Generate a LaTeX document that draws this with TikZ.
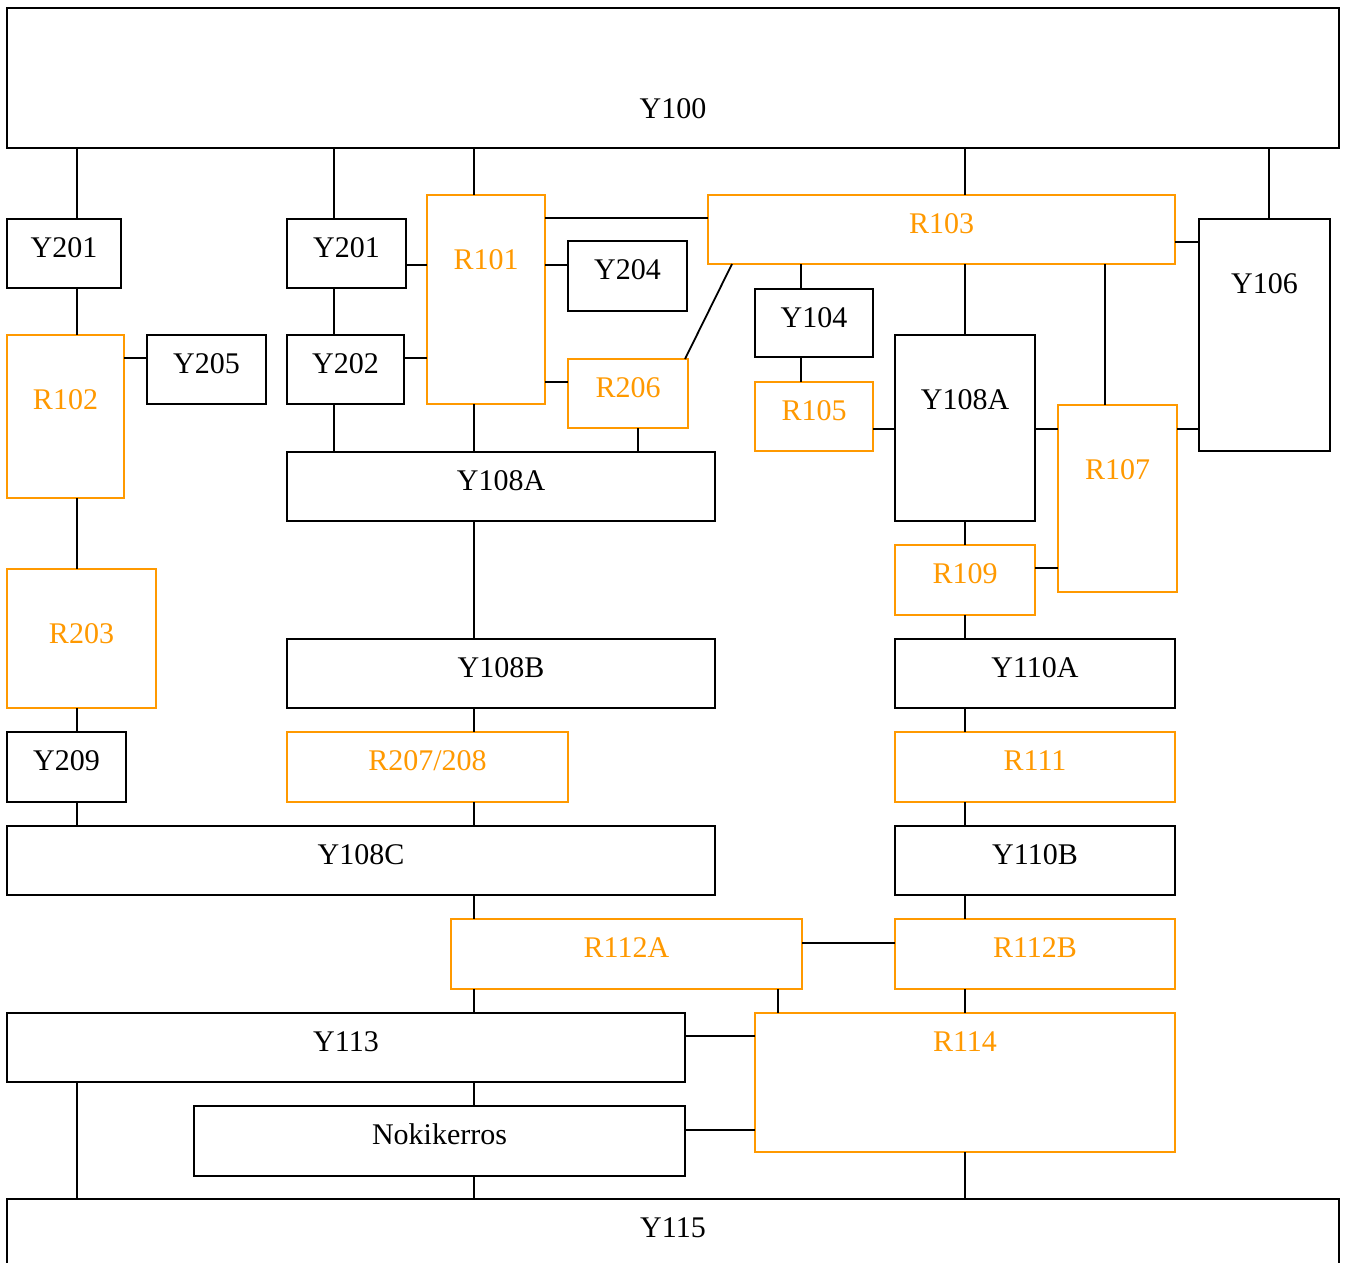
\documentclass[tikz,border=0pt]{standalone}
\usepackage{fontspec}
\setmainfont{Liberation Serif}
\usetikzlibrary{positioning}
\definecolor{orng}{RGB}{255,153,0}

\begin{document}
\begin{tikzpicture}[
  x=1pt,y=-1pt,font=\fontsize{30}{36}\selectfont,
  box/.style={draw,line width=1.8pt,inner sep=0pt,outer sep=0pt},
  ybox/.style={box,draw=black},
  rbox/.style={box,draw=orng},
  ytxt/.style={anchor=base,yshift=-38pt,text=black},
  ytall/.style={ytxt,yshift=-36pt},
  rtxt/.style={ytxt,text=orng},
  rtall/.style={rtxt,yshift=-36pt},
  wire/.style={line width=1.8pt,black},
]
\path[use as bounding box,fill=white] (0,0) rectangle (1346,1263);

% top and bottom bars
\node[ybox,minimum width=1332pt,minimum height=140pt,label={[ytxt,yshift=-72pt]north:Y100}] (y100) at (673,78) {};
\node[ybox,minimum width=1332pt,minimum height=140pt,label={[ytxt]north:Y115}] (y115) at (673,1269) {};

% left column
\node[ybox,minimum width=114pt,minimum height=69pt,label={[ytxt]north:Y201}] (y201a) at (64,253.5) {};
\node[rbox,minimum width=117pt,minimum height=163pt,label={[rtall]north:R102}] (r102) at (65.5,416.5) {};
\node[ybox,minimum width=119pt,minimum height=69pt,label={[ytxt]north:Y205}] (y205) at (206.5,369.5) {};
\node[rbox,minimum width=149pt,minimum height=139pt,label={[rtall]north:R203}] (r203) at (81.5,638.5) {};
\node[ybox,minimum width=119pt,minimum height=70pt,label={[ytxt]north:Y209}] (y209) at (66.5,767) {};

% middle column
\node[ybox,minimum width=119pt,minimum height=69pt,label={[ytxt]north:Y201}] (y201b) at (346.5,253.5) {};
\node[ybox,minimum width=117pt,minimum height=69pt,label={[ytxt]north:Y202}] (y202) at (345.5,369.5) {};
\node[rbox,minimum width=118pt,minimum height=209pt,label={[rtall]north:R101}] (r101) at (486,299.5) {};
\node[ybox,minimum width=119pt,minimum height=70pt,label={[ytxt]north:Y204}] (y204) at (627.5,276) {};
\node[rbox,minimum width=120pt,minimum height=69pt,label={[rtxt]north:R206}] (r206) at (628,393.5) {};
\node[ybox,minimum width=428pt,minimum height=69pt,label={[ytxt]north:Y108A}] (y108am) at (501,486.5) {};
\node[ybox,minimum width=428pt,minimum height=69pt,label={[ytxt]north:Y108B}] (y108b) at (501,673.5) {};
\node[rbox,minimum width=281pt,minimum height=70pt,label={[rtxt]north:R207/208}] (r207) at (427.5,767) {};
\node[ybox,minimum width=708pt,minimum height=69pt,label={[ytxt]north:Y108C}] (y108c) at (361,860.5) {};
\node[rbox,minimum width=351pt,minimum height=70pt,label={[rtxt]north:R112A}] (r112a) at (626.5,954) {};
\node[ybox,minimum width=678pt,minimum height=69pt,label={[ytxt]north:Y113}] (y113) at (346,1047.5) {};
\node[ybox,minimum width=491pt,minimum height=70pt,label={[ytxt]north:Nokikerros}] (noki) at (439.5,1141) {};

% right column
\node[rbox,minimum width=467pt,minimum height=69pt,label={[rtxt]north:R103}] (r103) at (941.5,229.5) {};
\node[ybox,minimum width=131pt,minimum height=232pt,label={[ytall]north:Y106}] (y106) at (1264.5,335) {};
\node[ybox,minimum width=118pt,minimum height=68pt,label={[ytxt]north:Y104}] (y104) at (814,323) {};
\node[rbox,minimum width=118pt,minimum height=69pt,label={[rtxt]north:R105}] (r105) at (814,416.5) {};
\node[ybox,minimum width=140pt,minimum height=186pt,label={[ytall]north:Y108A}] (y108ar) at (965,428) {};
\node[rbox,minimum width=119pt,minimum height=187pt,label={[rtall]north:R107}] (r107) at (1117.5,498.5) {};
\node[rbox,minimum width=140pt,minimum height=70pt,label={[rtxt]north:R109}] (r109) at (965,580) {};
\node[ybox,minimum width=280pt,minimum height=69pt,label={[ytxt]north:Y110A}] (y110a) at (1035,673.5) {};
\node[rbox,minimum width=280pt,minimum height=70pt,label={[rtxt]north:R111}] (r111) at (1035,767) {};
\node[ybox,minimum width=280pt,minimum height=69pt,label={[ytxt]north:Y110B}] (y110b) at (1035,860.5) {};
\node[rbox,minimum width=280pt,minimum height=70pt,label={[rtxt]north:R112B}] (r112b) at (1035,954) {};
\node[rbox,minimum width=420pt,minimum height=139pt,label={[rtxt]north:R114}] (r114) at (965,1082.5) {};

% vertical wires
\draw[wire] (77,0 |- y100.south) -- (77,0 |- y201a.north);
\draw[wire] (77,0 |- y201a.south) -- (77,0 |- r102.north);
\draw[wire] (77,0 |- r102.south) -- (77,0 |- r203.north);
\draw[wire] (77,0 |- r203.south) -- (77,0 |- y209.north);
\draw[wire] (77,0 |- y209.south) -- (77,0 |- y108c.north);
\draw[wire] (77,0 |- y113.south) -- (77,0 |- y115.north);
\draw[wire] (334,0 |- y100.south) -- (334,0 |- y201b.north);
\draw[wire] (334,0 |- y201b.south) -- (334,0 |- y202.north);
\draw[wire] (334,0 |- y202.south) -- (334,0 |- y108am.north);
\draw[wire] (474,0 |- y100.south) -- (474,0 |- r101.north);
\draw[wire] (474,0 |- r101.south) -- (474,0 |- y108am.north);
\draw[wire] (474,0 |- y108am.south) -- (474,0 |- y108b.north);
\draw[wire] (474,0 |- y108b.south) -- (474,0 |- r207.north);
\draw[wire] (474,0 |- r207.south) -- (474,0 |- y108c.north);
\draw[wire] (474,0 |- y108c.south) -- (474,0 |- r112a.north);
\draw[wire] (474,0 |- r112a.south) -- (474,0 |- y113.north);
\draw[wire] (474,0 |- y113.south) -- (474,0 |- noki.north);
\draw[wire] (474,0 |- noki.south) -- (474,0 |- y115.north);
\draw[wire] (638,0 |- r206.south) -- (638,0 |- y108am.north);
\draw[wire] (778,0 |- r112a.south) -- (778,0 |- r114.north);
\draw[wire] (801,0 |- r103.south) -- (801,0 |- y104.north);
\draw[wire] (801,0 |- y104.south) -- (801,0 |- r105.north);
\draw[wire] (965,0 |- y100.south) -- (965,0 |- r103.north);
\draw[wire] (965,0 |- r103.south) -- (965,0 |- y108ar.north);
\draw[wire] (965,0 |- y108ar.south) -- (965,0 |- r109.north);
\draw[wire] (965,0 |- r109.south) -- (965,0 |- y110a.north);
\draw[wire] (965,0 |- y110a.south) -- (965,0 |- r111.north);
\draw[wire] (965,0 |- r111.south) -- (965,0 |- y110b.north);
\draw[wire] (965,0 |- y110b.south) -- (965,0 |- r112b.north);
\draw[wire] (965,0 |- r112b.south) -- (965,0 |- r114.north);
\draw[wire] (965,0 |- r114.south) -- (965,0 |- y115.north);
\draw[wire] (1105,0 |- r103.south) -- (1105,0 |- r107.north);
\draw[wire] (1269,0 |- y100.south) -- (1269,0 |- y106.north);

% horizontal wires
\draw[wire] (r102.east |- 0,358) -- (y205.west |- 0,358);
\draw[wire] (y201b.east |- 0,265) -- (r101.west |- 0,265);
\draw[wire] (y202.east |- 0,358) -- (r101.west |- 0,358);
\draw[wire] (r101.east |- 0,218) -- (r103.west |- 0,218);
\draw[wire] (r101.east |- 0,265) -- (y204.west |- 0,265);
\draw[wire] (r101.east |- 0,382) -- (r206.west |- 0,382);
\draw[wire] (r103.east |- 0,242) -- (y106.west |- 0,242);
\draw[wire] (r105.east |- 0,429) -- (y108ar.west |- 0,429);
\draw[wire] (y108ar.east |- 0,429) -- (r107.west |- 0,429);
\draw[wire] (r107.east |- 0,429) -- (y106.west |- 0,429);
\draw[wire] (r109.east |- 0,568) -- (r107.west |- 0,568);
\draw[wire] (r112a.east |- 0,943) -- (r112b.west |- 0,943);
\draw[wire] (y113.east |- 0,1036) -- (r114.west |- 0,1036);
\draw[wire] (noki.east |- 0,1130) -- (r114.west |- 0,1130);

% slanted wire
\draw[wire] ([xshift=-3pt]r206.north east) -- (732,0 |- r103.south);
\end{tikzpicture}
\end{document}
